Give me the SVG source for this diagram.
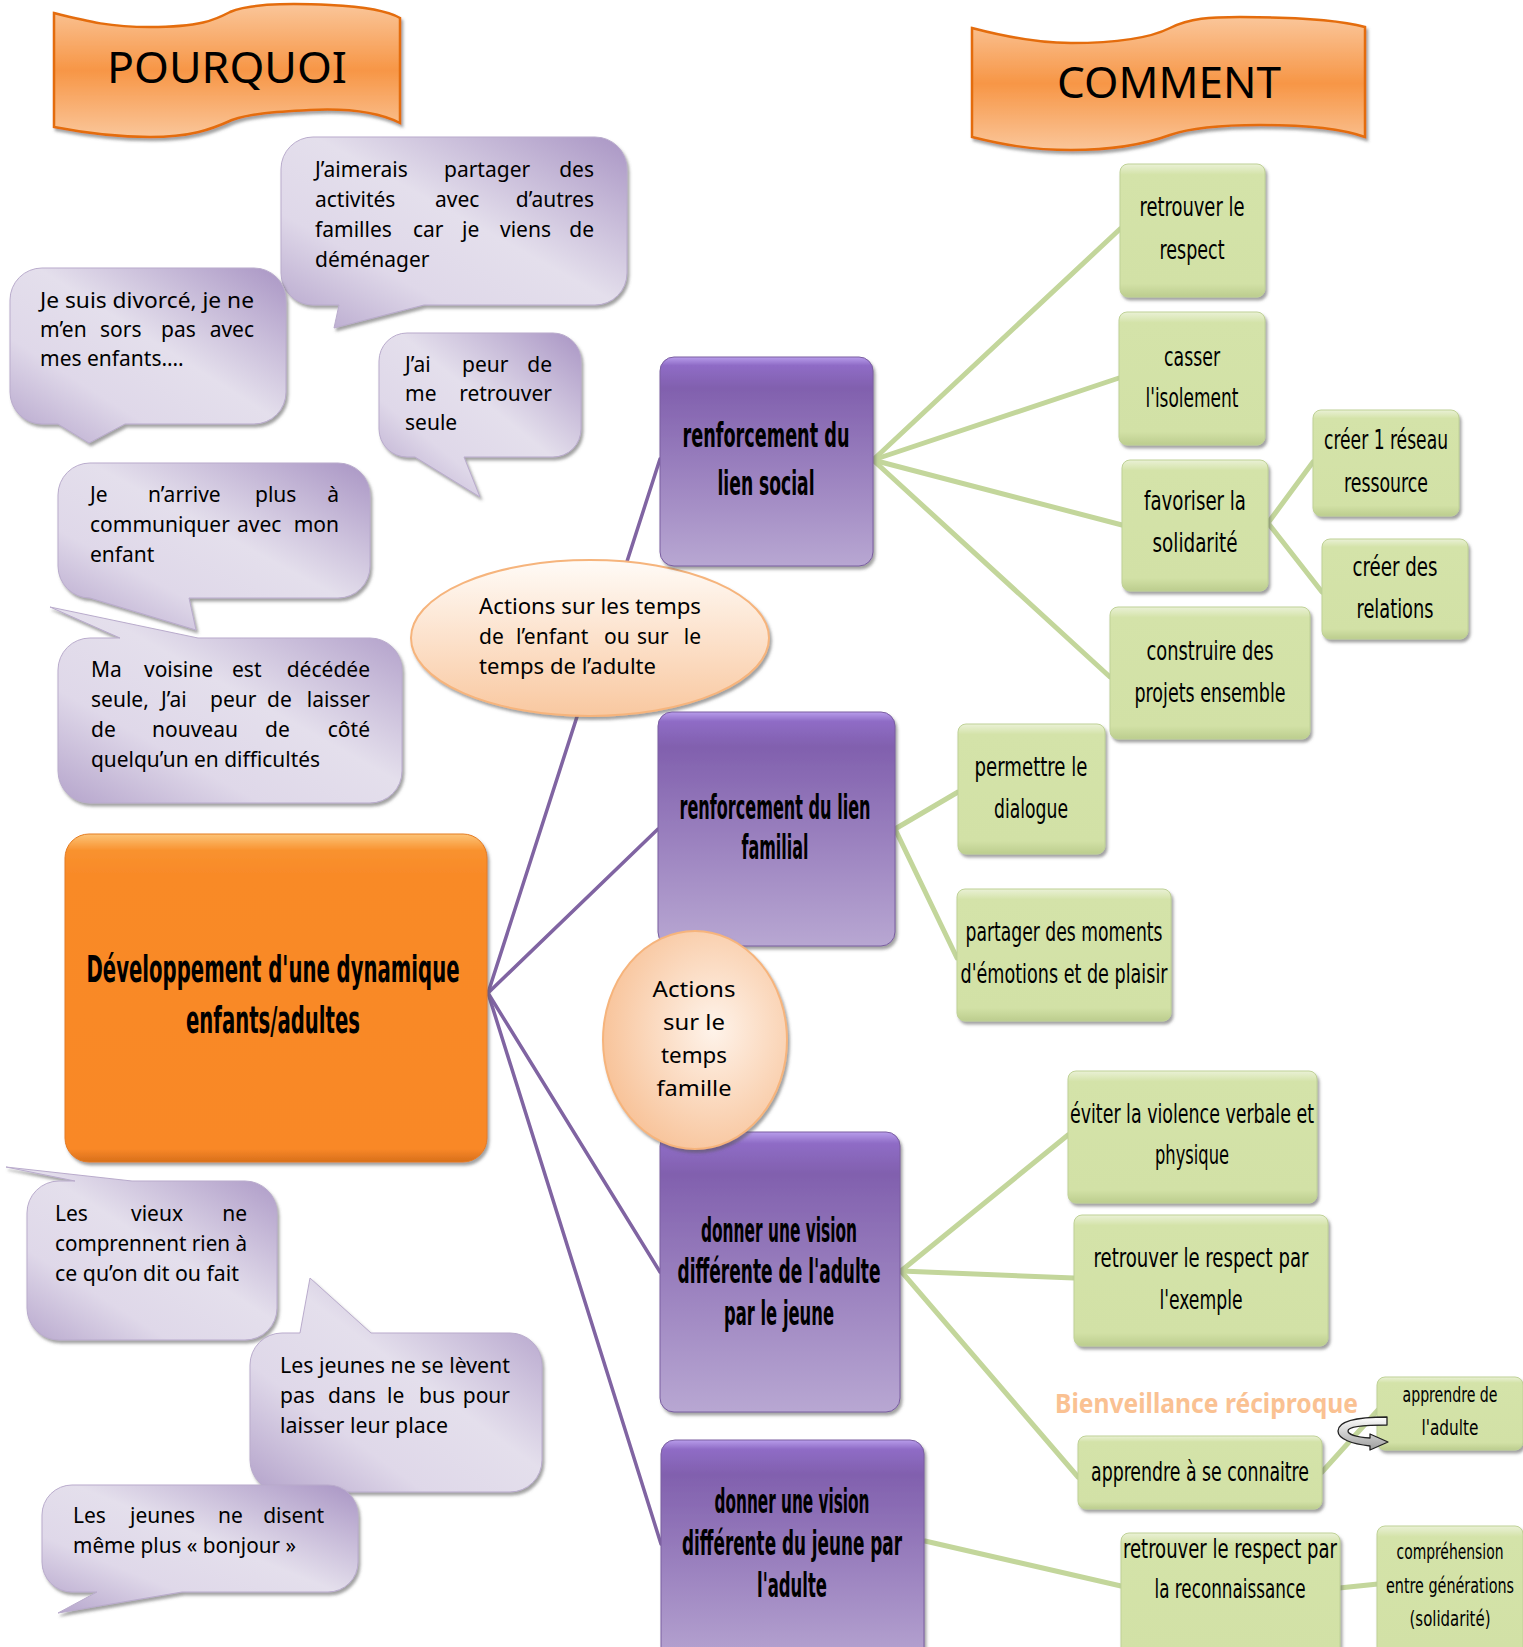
<svg xmlns="http://www.w3.org/2000/svg" width="1523" height="1647" viewBox="0 0 1523 1647">
<defs>
<style>
.b{font-family:"Noto Sans","DejaVu Sans",sans-serif;font-size:21px;fill:#000}
.g{font-family:"DejaVu Sans Condensed","DejaVu Sans",sans-serif;font-size:26px;fill:#000;text-anchor:middle}
.gs{font-family:"DejaVu Sans Condensed","DejaVu Sans",sans-serif;font-size:22px;fill:#000;text-anchor:middle}
.p{font-family:"DejaVu Sans Condensed","DejaVu Sans",sans-serif;font-size:33px;font-weight:bold;fill:#000;text-anchor:middle}
.c{font-family:"DejaVu Sans Condensed","DejaVu Sans",sans-serif;font-size:38px;font-weight:bold;fill:#000;text-anchor:middle}
.e{font-family:"Noto Sans","DejaVu Sans",sans-serif;font-size:22px;fill:#000;text-anchor:middle}
.t{font-family:"Noto Sans","DejaVu Sans",sans-serif;font-size:44px;fill:#000}
.bub{fill:url(#gB);stroke:#B9ABCC;stroke-width:1;filter:url(#sh)}
.gbox{fill:url(#gG);stroke:#BFD196;stroke-width:1;filter:url(#sh)}
.pbox{fill:url(#gP);stroke:#7A5EA0;stroke-width:1;filter:url(#sh)}
.ban{fill:url(#gBan);stroke:#E46C0A;stroke-width:2.5;filter:url(#sh)}
.pl{stroke:#8064A2;stroke-width:3.5;fill:none;stroke-linecap:round}
.gl{stroke:#C3D69B;stroke-width:5;fill:none;stroke-linecap:round}
.end{text-anchor:end}
</style>
<filter id="sh" x="-10%" y="-10%" width="125%" height="125%">
<feDropShadow dx="2" dy="3" stdDeviation="1.5" flood-color="#555" flood-opacity="0.55"/>
</filter>
<linearGradient id="gB" x1="1" y1="0" x2="0" y2="1">
<stop offset="0" stop-color="#A995C4"/>
<stop offset="0.45" stop-color="#E4DFEC"/>
<stop offset="0.7" stop-color="#DFD8E9"/>
<stop offset="1" stop-color="#B3A2CA"/>
</linearGradient>
<linearGradient id="gG" x1="0" y1="0" x2="0" y2="1">
<stop offset="0" stop-color="#EAF1D6"/>
<stop offset="0.08" stop-color="#D4E3A9"/>
<stop offset="0.9" stop-color="#D2E1A6"/>
<stop offset="1" stop-color="#BCCD8E"/>
</linearGradient>
<linearGradient id="gP" x1="0" y1="0" x2="0" y2="1">
<stop offset="0" stop-color="#B89DEB"/>
<stop offset="0.04" stop-color="#8F6CC6"/>
<stop offset="0.15" stop-color="#8160AE"/>
<stop offset="1" stop-color="#B8A7D2"/>
</linearGradient>
<linearGradient id="gO" x1="0" y1="0" x2="0" y2="1">
<stop offset="0" stop-color="#FCC478"/>
<stop offset="0.05" stop-color="#F9922F"/>
<stop offset="0.12" stop-color="#F98A28"/>
<stop offset="0.96" stop-color="#F98828"/>
<stop offset="1" stop-color="#D86F1B"/>
</linearGradient>
<linearGradient id="gBan" x1="0" y1="0" x2="0" y2="1">
<stop offset="0" stop-color="#FAC69A"/>
<stop offset="0.5" stop-color="#F79646"/>
<stop offset="1" stop-color="#FAC69A"/>
</linearGradient>
<linearGradient id="gE1" x1="0" y1="0" x2="0" y2="1">
<stop offset="0" stop-color="#FFFBF7"/>
<stop offset="1" stop-color="#F9C8A0"/>
</linearGradient>
<radialGradient id="gE2" cx="0.6" cy="0.45" r="0.6">
<stop offset="0" stop-color="#FEF3EA"/>
<stop offset="1" stop-color="#F8C49B"/>
</radialGradient>
<linearGradient id="gA" x1="0" y1="0" x2="0" y2="1">
<stop offset="0" stop-color="#FFFFFF"/>
<stop offset="1" stop-color="#9C9C9C"/>
</linearGradient>
</defs>
<rect width="1523" height="1647" fill="#FFFFFF"/>

<g id="connectors">
<line class="pl" x1="488" y1="993" x2="660" y2="459"/>
<line class="pl" x1="488" y1="993" x2="658" y2="829"/>
<line class="pl" x1="488" y1="993" x2="660" y2="1272"/>
<line class="pl" x1="488" y1="993" x2="661" y2="1544"/>
<line class="gl" x1="873" y1="460" x2="1120" y2="229"/>
<line class="gl" x1="873" y1="460" x2="1119" y2="378"/>
<line class="gl" x1="873" y1="460" x2="1122" y2="525"/>
<line class="gl" x1="873" y1="460" x2="1110" y2="677"/>
<line class="gl" x1="1268" y1="523" x2="1313" y2="462"/>
<line class="gl" x1="1268" y1="523" x2="1322" y2="592"/>
<line class="gl" x1="895" y1="829" x2="958" y2="792"/>
<line class="gl" x1="895" y1="829" x2="957" y2="958"/>
<line class="gl" x1="901" y1="1271" x2="1068" y2="1135"/>
<line class="gl" x1="901" y1="1271" x2="1074" y2="1278"/>
<line class="gl" x1="901" y1="1271" x2="1078" y2="1477"/>
<line class="gl" x1="1322" y1="1472" x2="1378" y2="1410"/>
<line class="gl" x1="925" y1="1541" x2="1121" y2="1586"/>
<line class="gl" x1="1339" y1="1588" x2="1378" y2="1584"/>
</g>

<g id="banner-pourquoi">
<path class="ban" d="M54,13 C90,22 110,27 150,27 C200,27 215,20 230,12 C250,3 290,3 330,5 C370,7 390,12 400,18 L400,123 C380,113 350,108 310,110 C270,112 250,114 232,120 C210,130 190,137 150,137 C110,137 80,132 54,127 Z"/>
<text class="t" x="107" y="83" textLength="240" lengthAdjust="spacingAndGlyphs">POURQUOI</text>
</g>

<g id="banner-comment">
<path class="ban" d="M972,28 C1010,38 1040,43 1071,43 C1120,43 1150,38 1170,28 C1190,18 1210,17 1240,17 C1290,17 1340,20 1365,27 L1365,137 C1340,128 1300,125 1260,125 C1220,125 1190,128 1170,135 C1140,146 1110,150 1071,150 C1030,150 1000,144 972,137 Z"/>
<text class="t" x="1057" y="98" textLength="224" lengthAdjust="spacingAndGlyphs">COMMENT</text>
</g>

<g id="bubble-demenager">
<path class="bub" d="M313,137 H595 A32,32 0 0 1 627,169 V273 A32,32 0 0 1 595,305 H424 L334,328 L339,305 H313 A32,32 0 0 1 281,273 V169 A32,32 0 0 1 313,137 Z"/>
<text class="b"><tspan x="315" y="177">J’aimerais</tspan><tspan x="444" y="177">partager</tspan><tspan x="594" y="177" class="end">des</tspan><tspan x="315" y="207">activités</tspan><tspan x="435" y="207">avec</tspan><tspan x="594" y="207" class="end">d’autres</tspan><tspan x="315" y="237">familles</tspan><tspan x="413" y="237">car</tspan><tspan x="462" y="237">je</tspan><tspan x="500" y="237">viens</tspan><tspan x="594" y="237" class="end">de</tspan><tspan x="315" y="267">déménager</tspan></text>
</g>

<g id="bubble-divorce">
<path class="bub" d="M42,268 H254 A32,32 0 0 1 286,300 V392 A32,32 0 0 1 254,424 H125 L89,443 L58,424 H42 A32,32 0 0 1 10,392 V300 A32,32 0 0 1 42,268 Z"/>
<text class="b" x="40" y="308" textLength="214" lengthAdjust="spacingAndGlyphs">Je suis divorcé, je ne</text>
<text class="b"><tspan x="40" y="337">m’en</tspan><tspan x="100" y="337">sors</tspan><tspan x="161" y="337">pas</tspan><tspan x="254" y="337" class="end">avec</tspan></text>
<text class="b" x="40" y="366">mes enfants….</text>
</g>

<g id="bubble-seule">
<path class="bub" d="M407,333 H553 A28,28 0 0 1 581,361 V429 A28,28 0 0 1 553,457 H464 L480,497 L415,457 H407 A28,28 0 0 1 379,429 V361 A28,28 0 0 1 407,333 Z"/>
<text class="b"><tspan x="405" y="372">J’ai</tspan><tspan x="462" y="372">peur</tspan><tspan x="552" y="372" class="end">de</tspan><tspan x="405" y="401">me</tspan><tspan x="552" y="401" class="end">retrouver</tspan><tspan x="405" y="430">seule</tspan></text>
</g>

<g id="bubble-communiquer">
<path class="bub" d="M90,463 H338 A32,32 0 0 1 370,495 V566 A32,32 0 0 1 338,598 H189 L196,630 L90,598 A32,32 0 0 1 58,566 V495 A32,32 0 0 1 90,463 Z"/>
<text class="b"><tspan x="90" y="502">Je</tspan><tspan x="148" y="502">n’arrive</tspan><tspan x="255" y="502">plus</tspan><tspan x="339" y="502" class="end">à</tspan><tspan x="90" y="532">communiquer</tspan><tspan x="237" y="532">avec</tspan><tspan x="339" y="532" class="end">mon</tspan><tspan x="90" y="562">enfant</tspan></text>
</g>

<g id="bubble-voisine">
<path class="bub" d="M90,638 H120 L50,607 L198,638 H370 A32,32 0 0 1 402,670 V771 A32,32 0 0 1 370,803 H90 A32,32 0 0 1 58,771 V670 A32,32 0 0 1 90,638 Z"/>
<text class="b"><tspan x="91" y="677">Ma</tspan><tspan x="144" y="677">voisine</tspan><tspan x="232" y="677">est</tspan><tspan x="370" y="677" class="end">décédée</tspan><tspan x="91" y="707">seule,</tspan><tspan x="161" y="707">J’ai</tspan><tspan x="210" y="707">peur</tspan><tspan x="267" y="707">de</tspan><tspan x="370" y="707" class="end">laisser</tspan><tspan x="91" y="737">de</tspan><tspan x="152" y="737">nouveau</tspan><tspan x="265" y="737">de</tspan><tspan x="370" y="737" class="end">côté</tspan></text>
<text class="b" x="91" y="767" textLength="229" lengthAdjust="spacingAndGlyphs">quelqu’un en difficultés</text>
</g>

<g id="bubble-vieux">
<path class="bub" d="M59,1181 H75 L6,1167 L132,1181 H245 A32,32 0 0 1 277,1213 V1308 A32,32 0 0 1 245,1340 H59 A32,32 0 0 1 27,1308 V1213 A32,32 0 0 1 59,1181 Z"/>
<text class="b"><tspan x="55" y="1221">Les</tspan><tspan x="131" y="1221">vieux</tspan><tspan x="247" y="1221" class="end">ne</tspan></text>
<text class="b" x="55" y="1251" textLength="192" lengthAdjust="spacingAndGlyphs">comprennent rien à</text>
<text class="b" x="55" y="1281" textLength="184" lengthAdjust="spacingAndGlyphs">ce qu’on dit ou fait</text>
</g>

<g id="bubble-bus">
<path class="bub" d="M282,1333 H300 L310,1278 L371,1333 H510 A32,32 0 0 1 542,1365 V1460 A32,32 0 0 1 510,1492 H282 A32,32 0 0 1 250,1460 V1365 A32,32 0 0 1 282,1333 Z"/>
<text class="b" x="280" y="1373" textLength="230" lengthAdjust="spacingAndGlyphs">Les jeunes ne se lèvent</text>
<text class="b"><tspan x="280" y="1403">pas</tspan><tspan x="328" y="1403">dans</tspan><tspan x="387" y="1403">le</tspan><tspan x="419" y="1403">bus</tspan><tspan x="510" y="1403" class="end">pour</tspan></text>
<text class="b" x="280" y="1433" textLength="168" lengthAdjust="spacingAndGlyphs">laisser leur place</text>
</g>

<g id="bubble-bonjour">
<path class="bub" d="M72,1485 H328 A30,30 0 0 1 358,1515 V1562 A30,30 0 0 1 328,1592 H182 L58,1613 L97,1592 H72 A30,30 0 0 1 42,1562 V1515 A30,30 0 0 1 72,1485 Z"/>
<text class="b"><tspan x="73" y="1523">Les</tspan><tspan x="130" y="1523">jeunes</tspan><tspan x="218" y="1523">ne</tspan><tspan x="324" y="1523" class="end">disent</tspan></text>
<text class="b" x="73" y="1553" textLength="223" lengthAdjust="spacingAndGlyphs">même plus « bonjour »</text>
</g>

<g id="central">
<rect x="65" y="834" width="422" height="328" rx="24" fill="url(#gO)" stroke="#E47C22" stroke-width="1" filter="url(#sh)"/>
<text class="c" transform="translate(273,982) scale(0.6,1)" textLength="621.7" lengthAdjust="spacingAndGlyphs">Développement d'une dynamique</text>
<text class="c" transform="translate(273,1033) scale(0.6,1)" textLength="290" lengthAdjust="spacingAndGlyphs">enfants/adultes</text>
</g>

<g id="ellipse-temps-enfant">
<ellipse cx="590" cy="638" rx="179" ry="78" fill="url(#gE1)" stroke="#F6B47C" stroke-width="2" filter="url(#sh)"/>
<text class="b" x="479" y="614" textLength="222" lengthAdjust="spacingAndGlyphs">Actions sur les temps</text>
<text class="b"><tspan x="479" y="644">de</tspan><tspan x="516" y="644">l’enfant</tspan><tspan x="604" y="644">ou</tspan><tspan x="637" y="644">sur</tspan><tspan x="701" y="644" class="end">le</tspan></text>
<text class="b" x="479" y="674" textLength="177" lengthAdjust="spacingAndGlyphs">temps de l’adulte</text>
</g>

<g id="p-lien-social">
<rect class="pbox" x="660" y="357" width="213" height="209" rx="14"/>
<text class="p" transform="translate(766,447) scale(0.6,1)" textLength="278.3" lengthAdjust="spacingAndGlyphs">renforcement du</text>
<text class="p" transform="translate(766,495) scale(0.6,1)" textLength="161.7" lengthAdjust="spacingAndGlyphs">lien social</text>
</g>

<g id="p-lien-familial">
<rect class="pbox" x="658" y="712" width="237" height="234" rx="14"/>
<text class="p" transform="translate(775,819) scale(0.6,1)" textLength="318.3" lengthAdjust="spacingAndGlyphs">renforcement du lien</text>
<text class="p" transform="translate(775,859) scale(0.6,1)" textLength="111.7" lengthAdjust="spacingAndGlyphs">familial</text>
</g>

<g id="p-vision-adulte">
<rect class="pbox" x="660" y="1132" width="240" height="280" rx="14"/>
<text class="p" transform="translate(779,1242) scale(0.6,1)" textLength="260" lengthAdjust="spacingAndGlyphs">donner une vision</text>
<text class="p" transform="translate(779,1283) scale(0.6,1)" textLength="338.3" lengthAdjust="spacingAndGlyphs">différente de l'adulte</text>
<text class="p" transform="translate(779,1325) scale(0.6,1)" textLength="183.3" lengthAdjust="spacingAndGlyphs">par le jeune</text>
</g>

<g id="p-vision-jeune">
<rect class="pbox" x="661" y="1440" width="263" height="230" rx="14"/>
<text class="p" transform="translate(792,1513) scale(0.6,1)" textLength="258.3" lengthAdjust="spacingAndGlyphs">donner une vision</text>
<text class="p" transform="translate(792,1555) scale(0.6,1)" textLength="366.7" lengthAdjust="spacingAndGlyphs">différente du jeune par</text>
<text class="p" transform="translate(792,1597) scale(0.6,1)" textLength="116.7" lengthAdjust="spacingAndGlyphs">l'adulte</text>
</g>

<g id="ellipse-temps-famille">
<ellipse cx="695" cy="1040" rx="92" ry="109" fill="url(#gE2)" stroke="#F6B47C" stroke-width="2" filter="url(#sh)"/>
<text class="e" x="694" y="997" textLength="83" lengthAdjust="spacingAndGlyphs">Actions</text>
<text class="e" x="694" y="1030" textLength="62" lengthAdjust="spacingAndGlyphs">sur le</text>
<text class="e" x="694" y="1063" textLength="66" lengthAdjust="spacingAndGlyphs">temps</text>
<text class="e" x="694" y="1096" textLength="75" lengthAdjust="spacingAndGlyphs">famille</text>
</g>

<g id="g-respect">
<rect class="gbox" x="1120" y="164" width="145" height="133" rx="8"/>
<text class="g" transform="translate(1192,216) scale(0.7,1)" textLength="150" lengthAdjust="spacingAndGlyphs">retrouver le</text>
<text class="g" transform="translate(1192,259) scale(0.7,1)" textLength="92.9" lengthAdjust="spacingAndGlyphs">respect</text>
</g>

<g id="g-isolement">
<rect class="gbox" x="1119" y="312" width="146" height="133" rx="8"/>
<text class="g" transform="translate(1192,366) scale(0.7,1)" textLength="80" lengthAdjust="spacingAndGlyphs">casser</text>
<text class="g" transform="translate(1192,407) scale(0.7,1)" textLength="132.9" lengthAdjust="spacingAndGlyphs">l'isolement</text>
</g>

<g id="g-solidarite">
<rect class="gbox" x="1122" y="460" width="146" height="131" rx="8"/>
<text class="g" transform="translate(1195,510) scale(0.7,1)" textLength="145.7" lengthAdjust="spacingAndGlyphs">favoriser la</text>
<text class="g" transform="translate(1195,552) scale(0.7,1)" textLength="121.4" lengthAdjust="spacingAndGlyphs">solidarité</text>
</g>

<g id="g-reseau">
<rect class="gbox" x="1313" y="410" width="146" height="106" rx="8"/>
<text class="g" transform="translate(1386,449) scale(0.7,1)" textLength="177.1" lengthAdjust="spacingAndGlyphs">créer 1 réseau</text>
<text class="g" transform="translate(1386,492) scale(0.7,1)" textLength="120" lengthAdjust="spacingAndGlyphs">ressource</text>
</g>

<g id="g-relations">
<rect class="gbox" x="1322" y="539" width="146" height="100" rx="8"/>
<text class="g" transform="translate(1395,576) scale(0.7,1)" textLength="121.4" lengthAdjust="spacingAndGlyphs">créer des</text>
<text class="g" transform="translate(1395,618) scale(0.7,1)" textLength="110" lengthAdjust="spacingAndGlyphs">relations</text>
</g>

<g id="g-projets">
<rect class="gbox" x="1110" y="607" width="200" height="132" rx="8"/>
<text class="g" transform="translate(1210,660) scale(0.7,1)" textLength="181.4" lengthAdjust="spacingAndGlyphs">construire des</text>
<text class="g" transform="translate(1210,702) scale(0.7,1)" textLength="215.7" lengthAdjust="spacingAndGlyphs">projets ensemble</text>
</g>

<g id="g-dialogue">
<rect class="gbox" x="958" y="724" width="147" height="130" rx="8"/>
<text class="g" transform="translate(1031,776) scale(0.7,1)" textLength="161.4" lengthAdjust="spacingAndGlyphs">permettre le</text>
<text class="g" transform="translate(1031,818) scale(0.7,1)" textLength="105.7" lengthAdjust="spacingAndGlyphs">dialogue</text>
</g>

<g id="g-emotions">
<rect class="gbox" x="957" y="889" width="214" height="132" rx="8"/>
<text class="g" transform="translate(1064,941) scale(0.7,1)" textLength="281.4" lengthAdjust="spacingAndGlyphs">partager des moments</text>
<text class="g" transform="translate(1064,983) scale(0.7,1)" textLength="295.7" lengthAdjust="spacingAndGlyphs">d'émotions et de plaisir</text>
</g>

<g id="g-violence">
<rect class="gbox" x="1068" y="1071" width="249" height="132" rx="8"/>
<text class="g" transform="translate(1192,1123) scale(0.7,1)" textLength="348.6" lengthAdjust="spacingAndGlyphs">éviter la violence verbale et</text>
<text class="g" transform="translate(1192,1164) scale(0.7,1)" textLength="105.7" lengthAdjust="spacingAndGlyphs">physique</text>
</g>

<g id="g-exemple">
<rect class="gbox" x="1074" y="1215" width="254" height="131" rx="8"/>
<text class="g" transform="translate(1201,1267) scale(0.7,1)" textLength="307.1" lengthAdjust="spacingAndGlyphs">retrouver le respect par</text>
<text class="g" transform="translate(1201,1309) scale(0.7,1)" textLength="118.6" lengthAdjust="spacingAndGlyphs">l'exemple</text>
</g>

<g id="g-connaitre">
<rect class="gbox" x="1078" y="1436" width="244" height="73" rx="8"/>
<text class="g" transform="translate(1200,1481) scale(0.7,1)" textLength="311.4" lengthAdjust="spacingAndGlyphs">apprendre à se connaitre</text>
</g>

<g id="g-apprendre-adulte">
<rect class="gbox" x="1377" y="1377" width="146" height="73" rx="8"/>
<text class="gs" transform="translate(1450,1402) scale(0.7,1)" textLength="135.7" lengthAdjust="spacingAndGlyphs">apprendre de</text>
<text class="gs" transform="translate(1450,1435) scale(0.7,1)" textLength="81.4" lengthAdjust="spacingAndGlyphs">l'adulte</text>
</g>

<g id="g-reconnaissance">
<rect class="gbox" x="1121" y="1533" width="219" height="130" rx="8"/>
<text class="g" transform="translate(1230,1558) scale(0.7,1)" textLength="305.7" lengthAdjust="spacingAndGlyphs">retrouver le respect par</text>
<text class="g" transform="translate(1230,1598) scale(0.7,1)" textLength="215.7" lengthAdjust="spacingAndGlyphs">la reconnaissance</text>
</g>

<g id="g-comprehension">
<rect class="gbox" x="1377" y="1526" width="146" height="135" rx="8"/>
<text class="gs" transform="translate(1450,1559) scale(0.7,1)" textLength="152.9" lengthAdjust="spacingAndGlyphs">compréhension</text>
<text class="gs" transform="translate(1450,1593) scale(0.7,1)" textLength="182.9" lengthAdjust="spacingAndGlyphs">entre générations</text>
<text class="gs" transform="translate(1450,1626) scale(0.7,1)" textLength="115.7" lengthAdjust="spacingAndGlyphs">(solidarité)</text>
</g>

<g id="label-bienveillance">
<text x="1055" y="1413" font-family="Noto Sans, DejaVu Sans, sans-serif" font-size="26" font-weight="bold" fill="#FAC192" textLength="303" lengthAdjust="spacingAndGlyphs">Bienveillance  réciproque</text>
</g>

<g id="arrow-reciproque">
<path d="M1387,1417 C1355,1417 1338,1422 1338,1431 C1338,1439 1352,1444 1370,1446 L1370,1450 L1388,1442 L1370,1434 L1370,1438 C1356,1437 1348,1434 1348,1431 C1348,1427 1362,1425 1387,1425 Z" fill="url(#gA)" stroke="#222" stroke-width="1.3" stroke-linejoin="round"/>
</g>
</svg>
